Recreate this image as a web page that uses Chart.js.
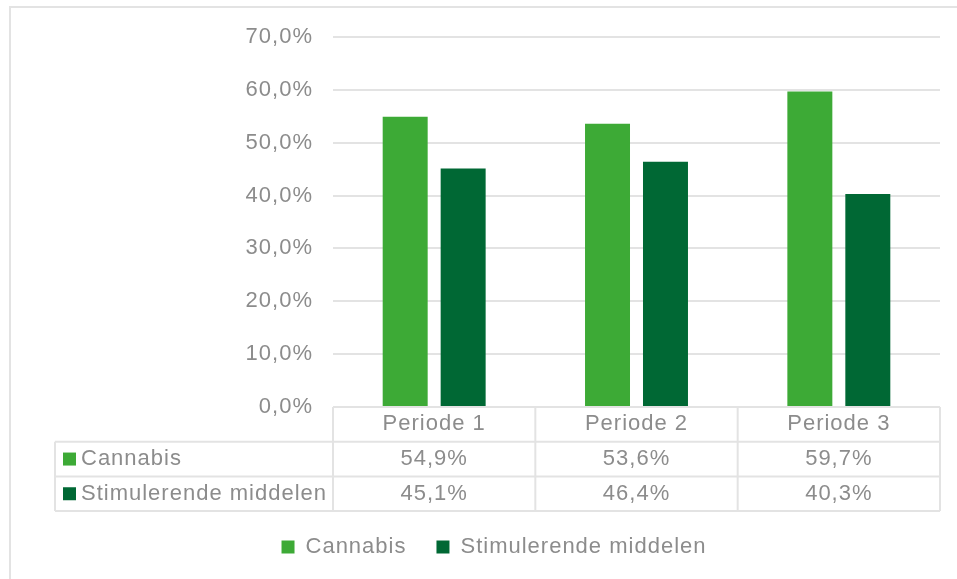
<!DOCTYPE html>
<html>
<head>
<meta charset="utf-8">
<title>Cannabis en stimulerende middelen per periode</title>
<script src="https://cdn.jsdelivr.net/npm/chart.js@4.4.1/dist/chart.umd.min.js"></script>
<style>
  html, body { margin: 0; padding: 0; background: #fff; overflow: hidden; }
  #frame { position: absolute; left: 9px; top: 6px; width: 1000px; height: 1000px; border: 2px solid #e3e3e3; }
  #chart { position: absolute; left: 0; top: 0; }
</style>
</head>
<body>
<div id="frame"></div>
<canvas id="chart" width="957" height="579"></canvas>
<script>
// Data
const periods = ['Periode 1', 'Periode 2', 'Periode 3'];
const seriesNames = ['Cannabis', 'Stimulerende middelen'];
const cannabis = [54.9, 53.6, 59.7];
const stimulerende = [45.1, 46.4, 40.3];
const yTicks = [0, 10, 20, 30, 40, 50, 60, 70];

const TEXT = '#8c8c8c';
const GRID = '#e3e3e3';
const FONT = '"Liberation Sans", Arial, sans-serif';

function pct(v){ return v.toFixed(1).replace('.', ',') + '%'; }

function spacing(chart){ chart.ctx.letterSpacing = '1px'; }

// Excel style data table under the plot
const dataTable = {
  id: 'dataTable',
  beforeUpdate: spacing,
  beforeLayout: spacing,
  beforeDraw: spacing,
  afterDraw(chart){
    const {ctx, chartArea: ca, scales: {x}} = chart;
    const rowH = 34.7;
    const half = (x.getPixelForValue(1) - x.getPixelForValue(0)) / 2;
    const right = x.getPixelForValue(periods.length - 1) + half;
    const labelLeft = ca.left - 278;
    const top = ca.bottom;
    const bottom = top + rowH * 3;

    ctx.save();
    ctx.strokeStyle = GRID;
    ctx.lineWidth = 2;
    ctx.beginPath();
    ctx.moveTo(ca.left, top); ctx.lineTo(right, top);
    for (let r = 1; r <= 3; r++){
      ctx.moveTo(labelLeft, top + rowH * r); ctx.lineTo(right, top + rowH * r);
    }
    periods.forEach((p, i) => {
      const lx = x.getPixelForValue(i) - half;
      ctx.moveTo(lx, top); ctx.lineTo(lx, bottom);
    });
    ctx.moveTo(right, top); ctx.lineTo(right, bottom);
    ctx.moveTo(labelLeft, top + rowH); ctx.lineTo(labelLeft, bottom);
    ctx.stroke();

    ctx.font = '22px ' + FONT;
    ctx.letterSpacing = '1px';
    ctx.fillStyle = TEXT;
    ctx.textBaseline = 'middle';
    ctx.textAlign = 'center';
    periods.forEach((p, i) => ctx.fillText(p, x.getPixelForValue(i), top + rowH / 2));

    chart.data.datasets.forEach((ds, r) => {
      const cy = top + rowH * (r + 1.5);
      ctx.fillStyle = ds.backgroundColor;
      ctx.fillRect(labelLeft + 8, cy - 6.5, 13, 13);
      ctx.fillStyle = TEXT;
      ctx.textAlign = 'left';
      ctx.fillText(ds.label, labelLeft + 26, cy);
      ctx.textAlign = 'center';
      ds.data.forEach((v, i) => ctx.fillText(pct(v), x.getPixelForValue(i), cy));
    });
    ctx.restore();
  }
};

Chart.defaults.font.family = FONT;
Chart.defaults.font.size = 22;
Chart.defaults.color = TEXT;

new Chart(document.getElementById('chart'), {
  type: 'bar',
  data: {
    labels: periods,
    datasets: [
      { label: seriesNames[0], data: cannabis, backgroundColor: '#3daa36', borderWidth: 0,
        categoryPercentage: 0.573, barPercentage: 0.776 },
      { label: seriesNames[1], data: stimulerende, backgroundColor: '#006834', borderWidth: 0,
        categoryPercentage: 0.573, barPercentage: 0.776 }
    ]
  },
  options: {
    responsive: false,
    animation: false,
    events: [],
    layout: { padding: { left: 48, right: 17, top: 37, bottom: 11 } },
    scales: {
      x: {
        grid: { display: false },
        border: { display: false },
        ticks: { display: false },
        afterFit: s => { s.height = 99; }
      },
      y: {
        min: 0,
        max: 70,
        afterBuildTicks: s => { s.ticks = yTicks.map(v => ({ value: v })); },
        grid: { color: GRID, lineWidth: 2, drawTicks: false },
        border: { display: false },
        ticks: { padding: 20, callback: v => pct(v) },
        afterFit: s => { s.width = 285; }
      }
    },
    plugins: {
      tooltip: { enabled: false },
      legend: {
        position: 'bottom',
        labels: { boxWidth: 13, boxHeight: 13, padding: 30, color: TEXT, font: { size: 22 } }
      }
    }
  },
  plugins: [dataTable]
});
</script>
</body>
</html>
